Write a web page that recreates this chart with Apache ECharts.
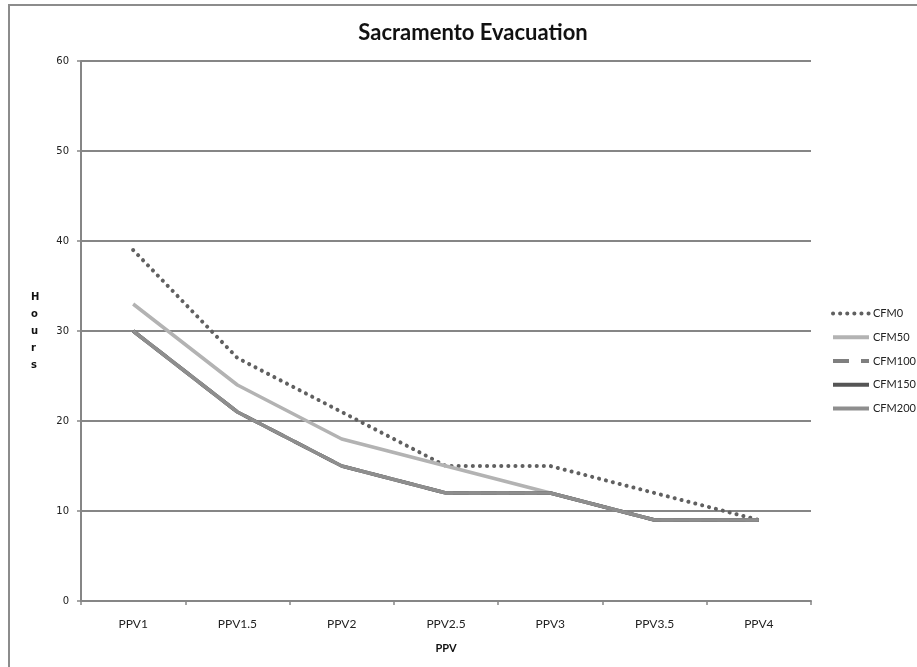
<!DOCTYPE html>
<html>
<head>
<meta charset="utf-8">
<script src="https://cdn.jsdelivr.net/npm/echarts@6/dist/echarts.min.js"></script>
<style>
  html, body { margin: 0; padding: 0; background: #fff; }
  #chart { width: 917px; height: 667px; }
</style>
</head>
<body>
<div id="chart"></div>
<script>
// Evacuation time (hours) by PPV level for each CFM scenario
const categories = ['PPV1', 'PPV1.5', 'PPV2', 'PPV2.5', 'PPV3', 'PPV3.5', 'PPV4'];
const cfm0   = [39, 27, 21, 15, 15, 12, 9];
const cfm50  = [33, 24, 18, 15, 12, 9, 9];
const cfm100 = [30, 21, 15, 12, 12, 9, 9];
const cfm150 = [30, 21, 15, 12, 12, 9, 9];
const cfm200 = [30, 21, 15, 12, 12, 9, 9];
const yTicks = [0, 10, 20, 30, 40, 50, 60];

const lineSeries = (name, data, color, type, cap, width) => ({
  name, type: 'line', data,
  symbol: 'none',
  smooth: false,
  lineStyle: { color, width: width || 3.5, type, cap: cap || 'butt' },
  itemStyle: { color },
  emphasis: { disabled: true }
});

const chart = echarts.init(document.getElementById('chart'), null, { renderer: 'canvas' });
chart.setOption({
  animation: false,
  backgroundColor: '#ffffff',
  title: {
    text: 'Sacramento Evacuation',
    left: 468, top: 17, textAlign: 'center',
    textStyle: { fontFamily: 'Lato', fontWeight: 'bold', fontSize: 22, color: '#111' }
  },
  graphic: [
    { type: 'rect', shape: { x: 9, y: 5, width: 940, height: 700 },
      style: { fill: 'none', stroke: '#8c8c8c', lineWidth: 2 }, silent: true },
    { type: 'text', left: 31, top: 289,
      style: { text: 'H\no\nu\nr\ns', fontFamily: 'DejaVu Sans', fontWeight: 'bold',
               fontSize: 10, lineHeight: 17, fill: '#111', align: 'center' } }
  ],
  legend: {
    orient: 'vertical', left: 831, top: 308, padding: 0,
    itemWidth: 36, itemHeight: 14, itemGap: 12.5,
    itemStyle: { opacity: 0 },
    lineStyle: { width: 4 },
    textStyle: { fontFamily: 'Lato', fontSize: 11, color: '#222', padding: [0, 0, 0, -1] },
    data: ['CFM0', 'CFM50', 'CFM100', 'CFM150', 'CFM200']
  },
  grid: { left: 81, right: 106, top: 61, bottom: 66 },
  xAxis: {
    type: 'category', data: categories, boundaryGap: true,
    name: 'PPV', nameLocation: 'middle', nameGap: 42,
    nameTextStyle: { fontFamily: 'Lato', fontWeight: 'bold', fontSize: 11, color: '#111' },
    axisLine: { lineStyle: { color: '#868686', width: 2 } },
    axisTick: { show: true, length: 4, alignWithLabel: false, lineStyle: { color: '#868686', width: 1.5 } },
    axisLabel: { fontFamily: 'Lato', fontSize: 12, color: '#222', margin: 17 },
    splitLine: { show: false }
  },
  yAxis: {
    type: 'value', min: yTicks[0], max: yTicks[yTicks.length - 1], interval: 10,
    axisLine: { show: true, lineStyle: { color: '#868686', width: 2 } },
    axisTick: { show: true, length: 4, lineStyle: { color: '#868686', width: 1.5 } },
    axisLabel: { fontFamily: 'DejaVu Sans', fontSize: 10, color: '#222', margin: 12 },
    splitLine: { show: true, lineStyle: { color: '#868686', width: 2 } }
  },
  series: [
    lineSeries('CFM0', cfm0, '#606060', [0.1, 7], 'round', 4),
    lineSeries('CFM50', cfm50, '#b3b3b3', 'solid'),
    lineSeries('CFM100', cfm100, '#7f7f7f', [16, 12]),
    lineSeries('CFM150', cfm150, '#555555', 'solid'),
    lineSeries('CFM200', cfm200, '#8e8e8e', 'solid')
  ]
});
</script>
</body>
</html>
